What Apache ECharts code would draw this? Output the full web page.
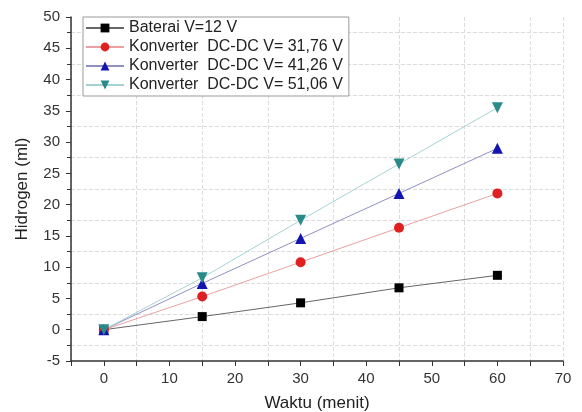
<!DOCTYPE html>
<html>
<head>
<meta charset="utf-8">
<script src="https://cdn.jsdelivr.net/npm/echarts@6/dist/echarts.min.js"></script>
<style>
    html, body { margin: 0; padding: 0; background: #fff; }
    #chart { width: 582px; height: 412px; }
</style>
</head>
<body>
<div id="chart"></div>
<script>
    // ------------------------------
    // Data
    // ------------------------------
    var waktu = [0, 15, 30, 45, 60];
    var baterai = [0, 2.1, 4.3, 6.7, 8.7];
    var konverter3176 = [0, 5.3, 10.8, 16.3, 21.8];
    var konverter4126 = [0, 7.4, 14.6, 21.8, 29.0];
    var konverter5106 = [0, 8.3, 17.5, 26.5, 35.5];
    var seriesNames = [
        'Baterai V=12 V',
        'Konverter  DC-DC V= 31,76 V',
        'Konverter  DC-DC V= 41,26 V',
        'Konverter  DC-DC V= 51,06 V'
    ];

    function pairs(ys) {
        return waktu.map(function (x, i) { return [x, ys[i]]; });
    }

    var chart = echarts.init(document.getElementById('chart'));

    function lineSeries(name, ys, symbol, size, color, lineColor, rotate) {
        return {
            name: name,
            type: 'line',
            data: pairs(ys),
            symbol: symbol,
            symbolSize: size,
            symbolRotate: rotate || 0,
            itemStyle: { color: color },
            lineStyle: { color: lineColor, width: 1 },
            emphasis: { disabled: true },
            z: 3
        };
    }

    var axisText = { color: '#333', fontSize: 15, fontFamily: 'Liberation Sans' };
    var gridLine = { show: true, lineStyle: { color: '#dcdcdc', type: 'dashed' } };

    var option = {
        animation: false,
        textStyle: { fontFamily: 'Liberation Sans' },
        grid: { left: 71, right: 19, top: 17, bottom: 51, outerBoundsMode: 'none', containLabel: false },

        // Legend with box
        legend: {
            orient: 'vertical',
            left: 83,
            top: 17,
            padding: [3, 6, 3, 2],
            itemGap: 3,
            itemWidth: 38,
            itemHeight: 11,
            borderColor: '#999',
            borderWidth: 1,
            backgroundColor: '#fff',
            textStyle: { color: '#222', fontSize: 16, fontFamily: 'Liberation Sans' },
            data: seriesNames
        },

        xAxis: [{
            type: 'value',
            min: -5,
            max: 70,
            interval: 5,
            name: 'Waktu (menit)',
            nameLocation: 'middle',
            nameGap: 34,
            nameTextStyle: { color: '#222', fontSize: 17 },
            axisLine: { onZero: false, lineStyle: { color: '#333', width: 1.5 } },
            axisTick: { show: true, length: 5, lineStyle: { color: '#333' } },
            splitLine: { show: false },
            axisLabel: Object.assign({
                margin: 10,
                formatter: function (v) { return (v >= 0 && v % 10 === 0) ? String(v) : ''; }
            }, axisText)
        }, {
            // grid lines at 5, 15, 25 ...
            type: 'value',
            min: -5,
            max: 70,
            interval: 10,
            show: true,
            position: 'bottom',
            axisLine: { show: false },
            axisTick: { show: false },
            axisLabel: { show: false },
            splitLine: gridLine
        }],

        yAxis: {
            type: 'value',
            min: -5,
            max: 50,
            interval: 5,
            name: 'Hidrogen (ml)',
            nameLocation: 'middle',
            nameGap: 40,
            nameTextStyle: { color: '#222', fontSize: 17 },
            axisLine: { show: true, onZero: false, lineStyle: { color: '#333', width: 1.5 } },
            axisTick: { show: true, length: 5, lineStyle: { color: '#333' } },
            minorTick: { show: true, splitNumber: 2, length: 4, lineStyle: { color: '#333' } },
            splitLine: { show: false },
            minorSplitLine: gridLine,
            axisLabel: Object.assign({ margin: 11 }, axisText)
        },

        series: [
            lineSeries(seriesNames[0], baterai, 'rect', 9, '#000000', '#666666'),
            lineSeries(seriesNames[1], konverter3176, 'circle', 10, '#e02020', '#e8a0a0'),
            lineSeries(seriesNames[2], konverter4126, 'triangle', 11, '#1414b0', '#9090c4'),
            lineSeries(seriesNames[3], konverter5106, 'triangle', 11, '#2a8a8a', '#a4d2d2', 180)
        ]
    };

    chart.setOption(option);
</script>
</body>
</html>
